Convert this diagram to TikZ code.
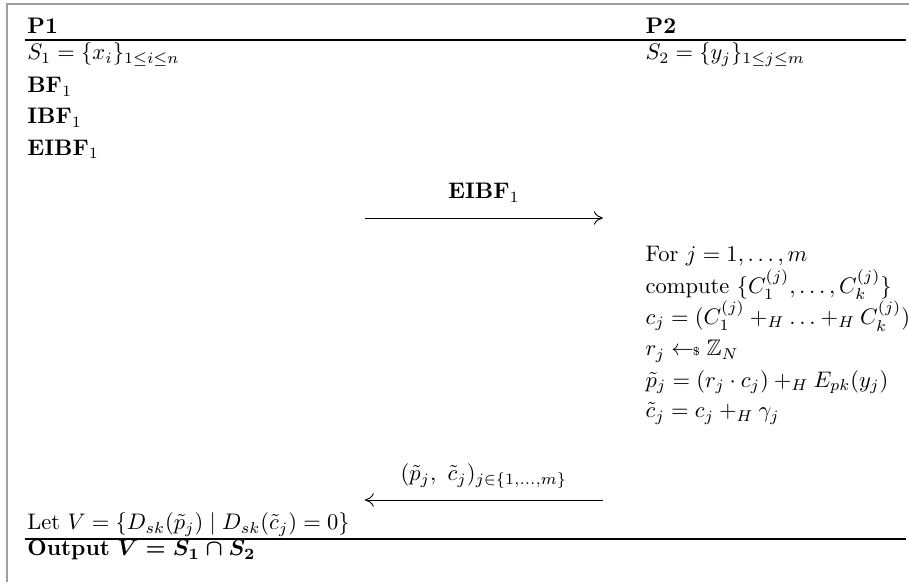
\documentclass[tikz,border=0pt]{standalone}
\usepackage{amsmath,amssymb}
\usetikzlibrary{arrows.meta}

\begin{document}
\begin{tikzpicture}[>={To[length=4pt,width=6pt]},line cap=butt,
  row/.style={anchor=base west,inner sep=0pt},
  msg/.style={->,line width=0.4pt},
  lbl/.style={midway,anchor=base,yshift=0.3cm,inner sep=0pt},
  rule/.style={line width=0.6pt}]
\useasboundingbox (0,0) rectangle (14.203,9.078);
\draw[gray!75,line width=0.9pt] (0.11,-0.2) |- (14.4,9.016);
% parties
\node[row] (pone) at (0.42,8.547){$\mathbf{P1}$};
\node[row] (ptwo) at (10.08,8.547){$\mathbf{P2}$};
\draw[rule] (0.39,8.453)--(14.16,8.453);
% P1 side
\node[row] (setone) at (0.42,8.141){$S_1=\{x_i\}_{1\leq i\leq n}$};
\node[row] (bf) at (0.42,7.625){$\mathbf{BF}_1$}; \node[row] (ibf) at (0.42,7.141){$\mathbf{IBF}_1$}; \node[row] (eibf) at (0.42,6.656){$\mathbf{EIBF}_1$};
% P2 side
\node[row] (settwo) at (10.08,8.141){$S_2=\{y_j\}_{1\leq j\leq m}$};
\node[row] (loop) at (10.08,4.99){For $j=1,\ldots,m$};
\node[row] (cmp) at (10.08,4.497){compute $\{C_1^{(j)},\ldots,C_k^{(j)}\}$};
\node[row] (cj) at (10.08,4.008){$c_j=(C_1^{(j)}+_H\ldots+_H C_k^{(j)})$};
\node[row] (rj) at (10.08,3.52){$r_j\leftarrow\!\!{\scriptscriptstyle\$}\;\mathbb{Z}_N$};
\node[row] (pj) at (10.08,3.031){$\tilde{p}_j=(r_j\cdot c_j)+_H E_{pk}(y_j)$};
\node[row] (ctj) at (10.08,2.547){$\tilde{c}_j=c_j+_H\gamma_j$};
% messages
\coordinate (s1) at (5.70,5.672); \coordinate (r1) at (9.42,5.672);
\draw[msg] (s1)--(r1) node[lbl] (m1){$\mathbf{EIBF}_1$};
\coordinate (s2) at (9.42,1.266); \coordinate (r2) at (5.70,1.266);
\draw[msg] (s2)--(r2) node[lbl] (m2){$(\tilde{p}_j,\ \tilde{c}_j)_{j\in\{1,\ldots,m\}}$};
% result
\node[row] (let) at (0.42,0.80){Let $V=\{D_{sk}(\tilde{p}_j)\mid D_{sk}(\tilde{c}_j)=0\}$};
\draw[rule] (0.39,0.656)--(14.16,0.656);
\node[row] (out) at (0.42,0.391){\textbf{Output} {\boldmath$V=S_1\cap S_2$}};
\end{tikzpicture}
\end{document}
